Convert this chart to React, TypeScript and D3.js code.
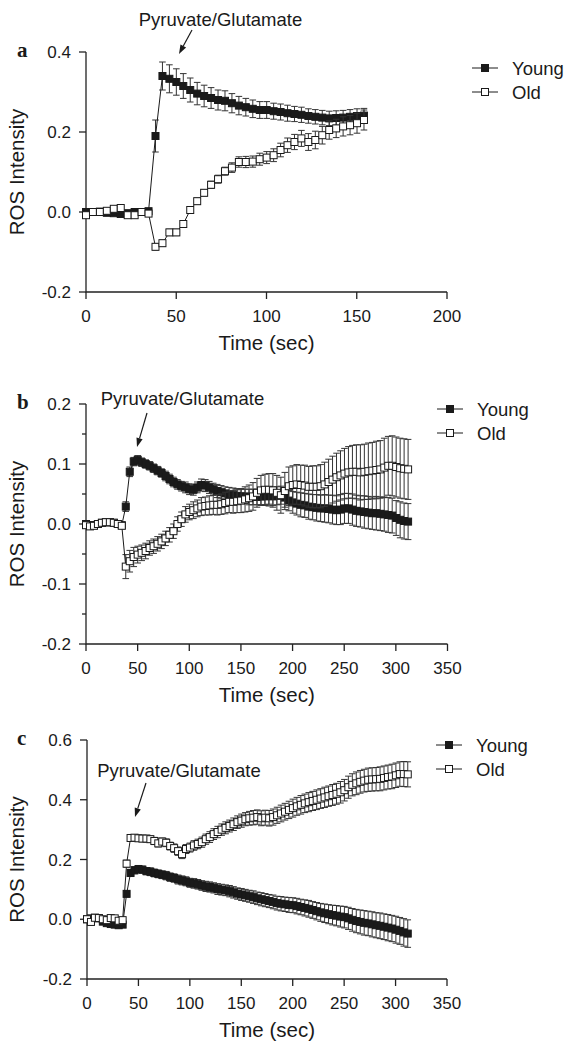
import React, { useEffect } from 'react';
import * as d3 from 'd3';

// sampling interval (sec) between successive readings
const INTERVAL = 3.85;

const SERIES = ['Young', 'Old'];
const ANNOTATION = 'Pyruvate/Glutamate';
const X_TITLE = 'Time (sec)';
const Y_TITLE = 'ROS Intensity';

const X_TICKS_A = [0, 50, 100, 150, 200];
const X_TICKS_BC = [0, 50, 100, 150, 200, 250, 300, 350];
const Y_TICKS_A = [-0.2, 0, 0.2, 0.4];
const Y_TICKS_B = [-0.2, -0.1, 0, 0.1, 0.2];
const Y_MINOR_B = [-0.15, -0.05, 0.05, 0.15];
const Y_TICKS_C = [-0.2, 0, 0.2, 0.4, 0.6];

// ---------- panel a ----------
const A_YOUNG = [0.0, 0.0, 0.001, -0.002, -0.003, -0.005, -0.003, 0.0, 0.0, 0.002,
  0.19, 0.34, 0.333, 0.325, 0.315, 0.305, 0.296, 0.29, 0.285, 0.28,
  0.278, 0.272, 0.266, 0.262, 0.258, 0.255, 0.255, 0.252, 0.25, 0.247,
  0.245, 0.243, 0.24, 0.238, 0.236, 0.234, 0.235, 0.236, 0.238, 0.24, 0.241];
const A_YOUNG_ERR = [0.004, 0.004, 0.004, 0.004, 0.004, 0.004, 0.004, 0.004, 0.004, 0.004,
  0.04, 0.035, 0.035, 0.033, 0.031, 0.03, 0.028, 0.027, 0.026, 0.025,
  0.025, 0.024, 0.023, 0.022, 0.022, 0.021, 0.021, 0.02, 0.02, 0.02,
  0.019, 0.019, 0.018, 0.018, 0.018, 0.018, 0.018, 0.018, 0.018, 0.018, 0.018];
const A_OLD = [-0.008, 0.0, 0.0, 0.003, 0.008, 0.01, -0.008, -0.008, 0.0, -0.004,
  -0.087, -0.078, -0.051, -0.051, -0.03, 0.005, 0.027, 0.048, 0.068, 0.082,
  0.102, 0.111, 0.125, 0.125, 0.126, 0.132, 0.136, 0.142, 0.155, 0.167,
  0.175, 0.184, 0.175, 0.18, 0.192, 0.205, 0.209, 0.214, 0.217, 0.222, 0.23];
const A_OLD_ERR = [0.004, 0.004, 0.004, 0.004, 0.004, 0.004, 0.004, 0.004, 0.004, 0.004,
  0.008, 0.008, 0.008, 0.008, 0.008, 0.008, 0.008, 0.008, 0.009, 0.01,
  0.01, 0.012, 0.013, 0.014, 0.014, 0.015, 0.015, 0.016, 0.017, 0.018,
  0.019, 0.02, 0.021, 0.022, 0.022, 0.023, 0.023, 0.024, 0.024, 0.025, 0.025];

// ---------- panel b ----------
const B_YOUNG = [0.0, -0.002, -0.002, 0.0, 0.002, 0.003, 0.003, 0.002, 0.0, -0.002,
  0.029, 0.087, 0.104, 0.107, 0.103, 0.1, 0.097, 0.093, 0.089, 0.085,
  0.08, 0.075, 0.07, 0.066, 0.063, 0.061, 0.058, 0.057, 0.061, 0.065,
  0.064, 0.061, 0.058, 0.055, 0.053, 0.051, 0.049, 0.048, 0.047, 0.046,
  0.046, 0.045, 0.045, 0.045, 0.046, 0.046, 0.047, 0.046, 0.047, 0.048,
  0.044, 0.039, 0.036, 0.034, 0.032, 0.031, 0.029, 0.028, 0.027, 0.026,
  0.026, 0.025, 0.024, 0.023, 0.024, 0.026, 0.026, 0.024, 0.022, 0.021,
  0.02, 0.019, 0.018, 0.018, 0.017, 0.016, 0.015, 0.014, 0.01, 0.007,
  0.005, 0.004];
const B_YOUNG_ERR = [0.003, 0.003, 0.003, 0.003, 0.003, 0.003, 0.003, 0.003, 0.003, 0.003,
  0.008, 0.008, 0.007, 0.007, 0.007, 0.007, 0.007, 0.007, 0.007, 0.007,
  0.008, 0.008, 0.008, 0.008, 0.008, 0.009, 0.009, 0.009, 0.009, 0.01,
  0.01, 0.01, 0.01, 0.011, 0.011, 0.011, 0.012, 0.012, 0.012, 0.012,
  0.012, 0.013, 0.013, 0.013, 0.014, 0.014, 0.014, 0.015, 0.015, 0.015,
  0.016, 0.017, 0.018, 0.019, 0.02, 0.02, 0.021, 0.021, 0.022, 0.022,
  0.023, 0.023, 0.024, 0.024, 0.025, 0.025, 0.025, 0.026, 0.026, 0.026,
  0.027, 0.027, 0.027, 0.028, 0.028, 0.028, 0.029, 0.029, 0.029, 0.03,
  0.03, 0.03];
const B_OLD = [-0.002, -0.004, -0.003, 0.0, 0.002, 0.003, 0.003, 0.002, 0.0, -0.003,
  -0.071, -0.062, -0.055, -0.051, -0.048, -0.045, -0.04, -0.037, -0.033, -0.029,
  -0.024, -0.018, -0.012, 0.0, 0.008, 0.016, 0.02, 0.023, 0.026, 0.029,
  0.03, 0.031, 0.032, 0.032, 0.033, 0.035, 0.037, 0.037, 0.038, 0.039,
  0.041, 0.043, 0.046, 0.052, 0.056, 0.057, 0.057, 0.056, 0.052, 0.048,
  0.055, 0.063, 0.065, 0.066, 0.065, 0.064, 0.062, 0.062, 0.062, 0.063,
  0.066, 0.07, 0.074, 0.078, 0.081, 0.084, 0.086, 0.087, 0.087, 0.086,
  0.087, 0.088, 0.089, 0.09, 0.091, 0.094, 0.097, 0.097, 0.095, 0.093,
  0.092, 0.091];
const B_OLD_ERR = [0.004, 0.004, 0.004, 0.004, 0.004, 0.004, 0.004, 0.004, 0.004, 0.004,
  0.02, 0.018, 0.016, 0.014, 0.013, 0.013, 0.012, 0.012, 0.012, 0.012,
  0.012, 0.012, 0.012, 0.012, 0.012, 0.013, 0.013, 0.014, 0.014, 0.015,
  0.015, 0.016, 0.016, 0.017, 0.017, 0.018, 0.018, 0.019, 0.019, 0.02,
  0.021, 0.022, 0.023, 0.024, 0.025, 0.026, 0.027, 0.028, 0.029, 0.03,
  0.031, 0.032, 0.032, 0.033, 0.033, 0.034, 0.034, 0.035, 0.035, 0.036,
  0.037, 0.038, 0.039, 0.04, 0.041, 0.042, 0.043, 0.044, 0.045, 0.046,
  0.046, 0.047, 0.047, 0.048, 0.048, 0.049, 0.049, 0.05, 0.05, 0.05,
  0.05, 0.05];

// ---------- panel c ----------
const C_YOUNG = [0.0, 0.003, 0.005, 0.003, -0.008, -0.013, -0.016, -0.018, -0.02, -0.018,
  0.085, 0.155, 0.164, 0.168, 0.166, 0.161, 0.159, 0.155, 0.152, 0.149,
  0.146, 0.141, 0.138, 0.133, 0.13, 0.127, 0.122, 0.12, 0.117, 0.113,
  0.11, 0.108, 0.105, 0.101, 0.099, 0.097, 0.094, 0.09, 0.086, 0.083,
  0.08, 0.077, 0.074, 0.07, 0.067, 0.064, 0.061, 0.058, 0.054, 0.052,
  0.05, 0.048, 0.047, 0.044, 0.041, 0.038, 0.035, 0.031, 0.027, 0.023,
  0.02, 0.017, 0.014, 0.012, 0.009, 0.007, 0.003, -0.002, -0.006, -0.009,
  -0.012, -0.014, -0.017, -0.02, -0.022, -0.025, -0.028, -0.031, -0.035, -0.039,
  -0.044, -0.048];
const C_YOUNG_ERR = [0.005, 0.005, 0.005, 0.005, 0.005, 0.005, 0.005, 0.005, 0.005, 0.005,
  0.01, 0.012, 0.012, 0.012, 0.012, 0.012, 0.013, 0.013, 0.013, 0.013,
  0.014, 0.014, 0.014, 0.015, 0.015, 0.015, 0.015, 0.016, 0.016, 0.016,
  0.017, 0.017, 0.017, 0.018, 0.018, 0.018, 0.019, 0.019, 0.019, 0.02,
  0.02, 0.02, 0.021, 0.021, 0.022, 0.022, 0.022, 0.023, 0.023, 0.024,
  0.024, 0.025, 0.025, 0.026, 0.026, 0.027, 0.028, 0.028, 0.029, 0.03,
  0.031, 0.032, 0.033, 0.034, 0.035, 0.036, 0.037, 0.038, 0.039, 0.04,
  0.041, 0.041, 0.042, 0.042, 0.043, 0.043, 0.044, 0.044, 0.045, 0.045,
  0.046, 0.046];
const C_OLD = [0.0, -0.009, 0.005, 0.004, 0.0, -0.003, 0.004, 0.003, -0.005, -0.003,
  0.186, 0.272, 0.273, 0.271, 0.27, 0.27, 0.268, 0.262, 0.254, 0.26,
  0.256, 0.245, 0.238, 0.228, 0.218, 0.235, 0.24, 0.247, 0.252, 0.258,
  0.268, 0.275, 0.285, 0.292, 0.3, 0.306, 0.312, 0.318, 0.325, 0.33,
  0.335, 0.338, 0.34, 0.342, 0.338, 0.34, 0.338, 0.342, 0.348, 0.354,
  0.36, 0.366, 0.372, 0.378, 0.383, 0.388, 0.392, 0.396, 0.4, 0.404,
  0.408, 0.412, 0.416, 0.42, 0.425, 0.432, 0.442, 0.45, 0.455, 0.46,
  0.464, 0.467, 0.468, 0.469, 0.47, 0.473, 0.476, 0.478, 0.482, 0.486,
  0.486, 0.485];
const C_OLD_ERR = [0.004, 0.004, 0.004, 0.004, 0.004, 0.004, 0.004, 0.004, 0.004, 0.004,
  0.012, 0.01, 0.01, 0.01, 0.01, 0.011, 0.011, 0.012, 0.012, 0.012,
  0.013, 0.013, 0.014, 0.014, 0.015, 0.015, 0.015, 0.016, 0.016, 0.017,
  0.017, 0.018, 0.018, 0.019, 0.019, 0.02, 0.02, 0.021, 0.021, 0.022,
  0.022, 0.023, 0.024, 0.024, 0.025, 0.025, 0.026, 0.027, 0.027, 0.028,
  0.028, 0.029, 0.03, 0.03, 0.031, 0.031, 0.032, 0.032, 0.033, 0.033,
  0.034, 0.034, 0.035, 0.035, 0.036, 0.036, 0.037, 0.037, 0.038, 0.038,
  0.038, 0.039, 0.039, 0.039, 0.04, 0.04, 0.04, 0.041, 0.041, 0.041,
  0.042, 0.042];

const FONT = "'Liberation Sans', Arial, Helvetica, sans-serif";
const INK = '#1a1a1a';

type PanelCfg = {
  label: string;
  left: number; right: number; top: number; bottom: number;
  xMax: number; xTicks: number[];
  yDomain: [number, number]; yTicks: number[]; yMinor: number[];
  young: number[]; youngErr: number[]; old: number[]; oldErr: number[];
  note: { x: number; y: number };
  arrow: [number, number, number, number];
  legend: { x: number; y: number };
};

const PANELS: PanelCfg[] = [
  {
    label: 'a', left: 86, right: 447, top: 52, bottom: 292,
    xMax: 200, xTicks: X_TICKS_A, yDomain: [-0.2, 0.4], yTicks: Y_TICKS_A, yMinor: [],
    young: A_YOUNG, youngErr: A_YOUNG_ERR, old: A_OLD, oldErr: A_OLD_ERR,
    note: { x: 220.5, y: 26 }, arrow: [192, 30, 179, 54], legend: { x: 472, y: 68 },
  },
  {
    label: 'b', left: 86, right: 447.5, top: 404, bottom: 644,
    xMax: 350, xTicks: X_TICKS_BC, yDomain: [-0.2, 0.2], yTicks: Y_TICKS_B, yMinor: Y_MINOR_B,
    young: B_YOUNG, youngErr: B_YOUNG_ERR, old: B_OLD, oldErr: B_OLD_ERR,
    note: { x: 182.5, y: 405 }, arrow: [147, 413, 137, 447], legend: { x: 437, y: 409 },
  },
  {
    label: 'c', left: 87, right: 447, top: 740, bottom: 979,
    xMax: 350, xTicks: X_TICKS_BC, yDomain: [-0.2, 0.6], yTicks: Y_TICKS_C, yMinor: [],
    young: C_YOUNG, youngErr: C_YOUNG_ERR, old: C_OLD, oldErr: C_OLD_ERR,
    note: { x: 179, y: 777 }, arrow: [146, 783, 135, 817], legend: { x: 436, y: 745 },
  },
];

const MS = 7; // marker side
const CAP = 3.3;

function Series({ values, errs, x, y, filled }: {
  values: number[]; errs: number[];
  x: d3.ScaleLinear<number, number>; y: d3.ScaleLinear<number, number>; filled: boolean;
}) {
  const times = values.map((_, i) => i * INTERVAL);
  const line = d3.line<number>().x((_, i) => x(times[i])).y((d) => y(d));
  return (
    <g>
      <g stroke="#333" strokeWidth={1} fill="none">
        {values.map((v, i) => {
          const cx = x(times[i]);
          const y1 = y(v + errs[i]);
          const y2 = y(v - errs[i]);
          return (
            <path key={i}
              d={`M${cx},${y1}V${y2}M${cx - CAP},${y1}H${cx + CAP}M${cx - CAP},${y2}H${cx + CAP}`} />
          );
        })}
      </g>
      <path d={line(values) || ''} fill="none" stroke={INK} strokeWidth={1} />
      <g>
        {values.map((v, i) => (
          <rect key={i} x={x(times[i]) - MS / 2} y={y(v) - MS / 2} width={MS} height={MS}
            fill={filled ? INK : '#fff'} stroke={INK} strokeWidth={1} />
        ))}
      </g>
    </g>
  );
}

function Panel({ p }: { p: PanelCfg }) {
  const x = d3.scaleLinear().domain([0, p.xMax]).range([p.left, p.right]);
  const y = d3.scaleLinear().domain(p.yDomain).range([p.bottom, p.top]);
  const [ax1, ay1, ax2, ay2] = p.arrow;
  const ang = Math.atan2(ay2 - ay1, ax2 - ax1);
  const hl = 9, hw = 3.2;
  const bx = ax2 - hl * Math.cos(ang), by = ay2 - hl * Math.sin(ang);
  const head = `M${ax2},${ay2}L${bx + hw * Math.sin(ang)},${by - hw * Math.cos(ang)}L${bx - hw * Math.sin(ang)},${by + hw * Math.cos(ang)}Z`;
  const midY = (p.top + p.bottom) / 2;
  const midX = (p.left + p.right) / 2;
  return (
    <g>
      {/* axes */}
      <g stroke="#222" strokeWidth={1.3} fill="none">
        <path d={`M${p.left},${p.top}V${p.bottom}H${x(p.xMax)}`} />
        {p.yTicks.map((t) => <path key={'y' + t} d={`M${p.left - 7},${y(t)}H${p.left}`} />)}
        {p.yMinor.map((t) => <path key={'m' + t} d={`M${p.left - 4},${y(t)}H${p.left}`} />)}
        {p.xTicks.map((t) => <path key={'x' + t} d={`M${x(t)},${p.bottom}V${p.bottom + 7}`} />)}
      </g>
      <g fontFamily={FONT} fontSize={17} fill={INK}>
        {p.yTicks.map((t) => (
          <text key={'yl' + t} x={p.left - 15} y={y(t) + 6} textAnchor="end">{t.toFixed(1)}</text>
        ))}
        {p.xTicks.map((t) => (
          <text key={'xl' + t} x={x(t)} y={p.bottom + 30} textAnchor="middle">{String(t)}</text>
        ))}
      </g>
      <text x={midX} y={p.bottom + 58} textAnchor="middle" fontFamily={FONT} fontSize={20.5} fill={INK}>{X_TITLE}</text>
      <text transform={`translate(24,${midY}) rotate(-90)`} textAnchor="middle" fontFamily={FONT} fontSize={20.5} fill={INK}>{Y_TITLE}</text>
      <text x={17} y={p.top + 5} fontFamily="'Liberation Serif', 'Times New Roman', serif" fontWeight="bold" fontSize={21} fill={INK}>{p.label}</text>

      {/* annotation */}
      <text x={p.note.x} y={p.note.y} textAnchor="middle" fontFamily={FONT} fontSize={18.5} fill={INK}>{ANNOTATION}</text>
      <path d={`M${ax1},${ay1}L${bx},${by}`} stroke={INK} strokeWidth={1.2} />
      <path d={head} fill={INK} />

      {/* data */}
      <Series values={p.young} errs={p.youngErr} x={x} y={y} filled={true} />
      <Series values={p.old} errs={p.oldErr} x={x} y={y} filled={false} />

      {/* legend */}
      {SERIES.map((s, i) => {
        const ly = p.legend.y + i * 24;
        const lx = p.legend.x;
        return (
          <g key={s}>
            <path d={`M${lx},${ly}H${lx + 26}`} stroke={INK} strokeWidth={1} />
            <rect x={lx + 13 - MS / 2} y={ly - MS / 2} width={MS} height={MS}
              fill={i === 0 ? INK : '#fff'} stroke={INK} strokeWidth={1} />
            <text x={lx + 40} y={ly + 7} fontFamily={FONT} fontSize={18.5} fill={INK}>{s}</text>
          </g>
        );
      })}
    </g>
  );
}

export default function App() {
  useEffect(() => {
    document.body.style.margin = '0';
  }, []);
  return (
    <div style={{ position: 'absolute', left: 0, top: 0 }}>
      <svg width={567} height={1041} viewBox="0 0 567 1041" style={{ display: 'block', background: '#fff' }}>
        {PANELS.map((p) => <Panel key={p.label} p={p} />)}
      </svg>
    </div>
  );
}
